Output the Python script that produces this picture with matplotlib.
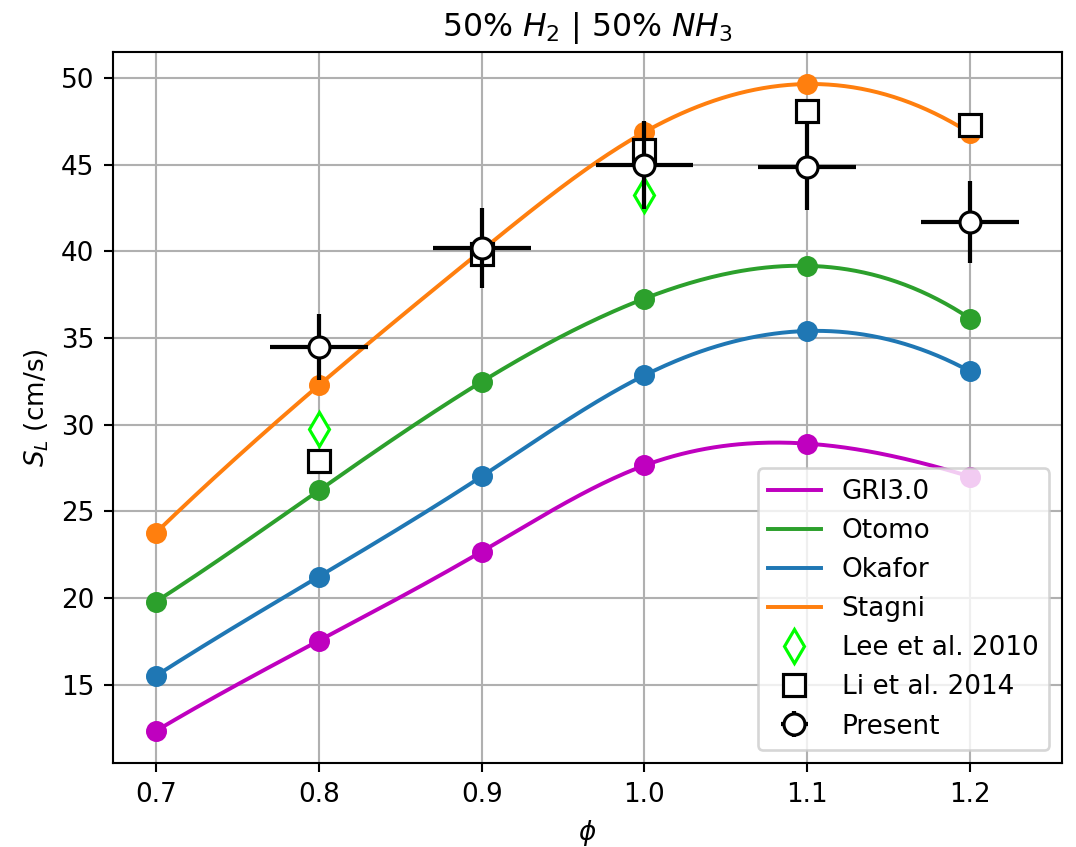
#!/usr/bin/env python3
"""
Laminar flame speed vs equivalence ratio, 50% H2 / 50% NH3.
"""

import numpy as np
import matplotlib.pyplot as plt

# equivalence ratios for the kinetic models
phi = [0.7, 0.8, 0.9, 1.0, 1.1, 1.2]

# simulated flame speeds (cm/s)
gri30 = [12.33, 17.53, 22.67, 27.64, 28.90, 27.00]
otomo = [19.79, 26.20, 32.47, 37.27, 39.16, 36.12]
okafor = [15.51, 21.23, 27.01, 32.84, 35.40, 33.07]
stagni = [23.77, 32.27, 40.05, 46.88, 49.65, 46.82]

# experiments
lee_phi = [0.8, 1.0]
lee_sl = [29.72, 43.24]

li_phi = [0.8, 0.9, 1.0, 1.1, 1.2]
li_sl = [27.87, 39.85, 45.84, 48.10, 47.28]

present_phi = [0.8, 0.9, 1.0, 1.1, 1.2]
present_sl = [34.46, 40.18, 44.97, 44.88, 41.70]
present_yerr = [1.9, 2.3, 2.55, 2.5, 2.35]
present_xerr = [0.03, 0.03, 0.03, 0.03, 0.03]

DPI = 189


def spline(x, y, num=300):
    """Not-a-knot cubic spline through the points (for drawing only)."""
    x = np.asarray(x, float)
    y = np.asarray(y, float)
    n = len(x) - 1
    h = np.diff(x)
    A = np.zeros((n + 1, n + 1))
    b = np.zeros(n + 1)
    for i in range(1, n):
        A[i, i - 1] = h[i - 1]
        A[i, i] = 2 * (h[i - 1] + h[i])
        A[i, i + 1] = h[i]
        b[i] = 6 * ((y[i + 1] - y[i]) / h[i] - (y[i] - y[i - 1]) / h[i - 1])
    # not-a-knot conditions
    A[0, 0] = -1 / h[0]
    A[0, 1] = 1 / h[0] + 1 / h[1]
    A[0, 2] = -1 / h[1]
    A[n, n - 2] = -1 / h[n - 2]
    A[n, n - 1] = 1 / h[n - 2] + 1 / h[n - 1]
    A[n, n] = -1 / h[n - 1]
    M = np.linalg.solve(A, b)

    xs = np.linspace(x[0], x[-1], num)
    idx = np.clip(np.searchsorted(x, xs) - 1, 0, n - 1)
    x0, x1 = x[idx], x[idx + 1]
    hh = x1 - x0
    ys = (M[idx] * (x1 - xs) ** 3 / (6 * hh)
          + M[idx + 1] * (xs - x0) ** 3 / (6 * hh)
          + (y[idx] / hh - M[idx] * hh / 6) * (x1 - xs)
          + (y[idx + 1] / hh - M[idx + 1] * hh / 6) * (xs - x0))
    return xs, ys


fig = plt.figure(figsize=(1076 / DPI, 847 / DPI), dpi=DPI)
ax = fig.add_axes([0.105, 0.099, 0.882, 0.840])

models = [
    ('GRI3.0', gri30, 'm'),
    ('Otomo', otomo, 'tab:green'),
    ('Okafor', okafor, 'tab:blue'),
    ('Stagni', stagni, 'tab:orange'),
]
for name, vals, color in models:
    xs, ys = spline(phi, vals)
    ax.plot(xs, ys, color=color, linewidth=1.5, label=name)
    ax.plot(phi, vals, 'o', color=color, markersize=7)

ax.plot(lee_phi, lee_sl, 'd', color='lime', markerfacecolor='white',
        markersize=9, markeredgewidth=1.2, linestyle='none',
        label='Lee et al. 2010')
ax.plot(li_phi, li_sl, 's', color='black', markerfacecolor='white',
        markersize=8.5, markeredgewidth=1.2, linestyle='none',
        label='Li et al. 2014')
ax.errorbar(present_phi, present_sl, yerr=present_yerr, xerr=present_xerr,
            fmt='o', color='black', markerfacecolor='white', markersize=8,
            markeredgewidth=1.2, elinewidth=1.6, label='Present')

ax.set_title('50% $H_2$ | 50% $NH_3$', fontsize=12)
ax.set_xlabel(r'$\phi$')
ax.set_ylabel('$S_L$ (cm/s)')
ax.grid(True)
ax.legend(loc='lower right')

plt.savefig('out.png', dpi=DPI)
